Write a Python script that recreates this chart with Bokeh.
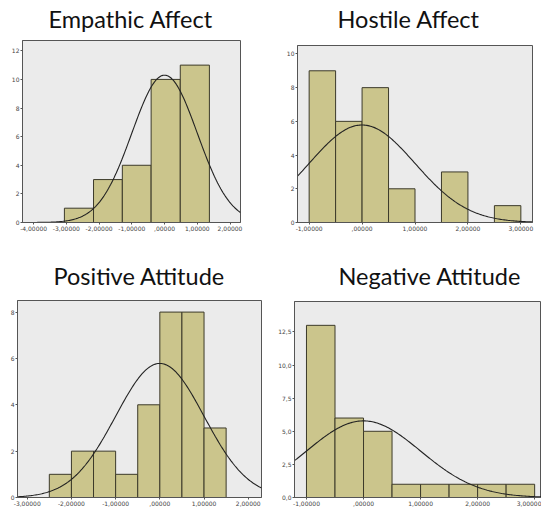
import math
from bokeh.plotting import figure
from bokeh.layouts import column, row
from bokeh.models import FixedTicker
from bokeh.embed import file_html
from bokeh.resources import INLINE

# ---------------- data ----------------
n_cases = 29
fit_mean = 0.0
fit_sd = 1.0

titles = ["Empathic Affect", "Hostile Affect", "Positive Attitude", "Negative Attitude"]

ea_edges = [-3.06, -2.17, -1.29, -0.41, 0.48, 1.37]
ea_counts = [1, 3, 4, 10, 11]

ha_edges = [-1.0, -0.5, 0.0, 0.5, 1.0, 1.5, 2.0, 2.5, 3.0]
ha_counts = [9, 6, 8, 2, 0, 3, 0, 1]

pa_edges = [-2.5, -2.0, -1.5, -1.0, -0.5, 0.0, 0.5, 1.0, 1.5]
pa_counts = [1, 2, 2, 1, 4, 8, 8, 3]

na_edges = [-1.0, -0.5, 0.0, 0.5, 1.0, 1.5, 2.0, 2.5, 3.0]
na_counts = [13, 6, 5, 1, 1, 1, 1, 1]

ea_xticks = [-4, -3, -2, -1, 0, 1, 2]
ea_xlabels = ["-4,00000", "-3,00000", "-2,00000", "-1,00000", ",00000", "1,00000", "2,00000"]
ea_yticks = [0, 2, 4, 6, 8, 10, 12]
ea_ylabels = ["0", "2", "4", "6", "8", "10", "12"]

ha_xticks = [-1, 0, 1, 2, 3]
ha_xlabels = ["-1,00000", ",00000", "1,00000", "2,00000", "3,00000"]
ha_yticks = [0, 2, 4, 6, 8, 10]
ha_ylabels = ["0", "2", "4", "6", "8", "10"]

pa_xticks = [-3, -2, -1, 0, 1, 2]
pa_xlabels = ["-3,00000", "-2,00000", "-1,00000", ",00000", "1,00000", "2,00000"]
pa_yticks = [0, 2, 4, 6, 8]
pa_ylabels = ["0", "2", "4", "6", "8"]

na_xticks = [-1, 0, 1, 2, 3]
na_xlabels = ["-1,00000", ",00000", "1,00000", "2,00000", "3,00000"]
na_yticks = [0, 2.5, 5.0, 7.5, 10.0, 12.5]
na_ylabels = ["0,0", "2,5", "5,0", "7,5", "10,0", "12,5"]

# ---------------- styling ----------------
BAR_FILL = "#CBC58C"
BAR_LINE = "#3C3A2A"
BG = "#EBEBEB"
TITLE_FONT = "Lato"
TOP_ROOM = 62


def normal_curve(x0, x1, bin_width, steps=200):
    xs, ys = [], []
    for i in range(steps + 1):
        x = x0 + (x1 - x0) * i / steps
        z = (x - fit_mean) / fit_sd
        pdf = math.exp(-0.5 * z * z) / (fit_sd * math.sqrt(2 * math.pi))
        xs.append(x)
        ys.append(n_cases * bin_width * pdf)
    return xs, ys


def panel(title, edges, counts, xr, yr, xticks, xlabels, yticks, ylabels,
          width, height, bl, br, bt, bb, title_offset, title_standoff):
    shift_up = TOP_ROOM - bt
    p = figure(width=width, height=height + shift_up, x_range=xr, y_range=yr,
               output_backend="svg", toolbar_location=None, title=title,
               min_border_left=bl, min_border_right=br,
               min_border_top=TOP_ROOM, min_border_bottom=bb,
               margin=(-shift_up, 0, 0, 0))
    p.title.text_font = TITLE_FONT
    p.title.text_font_size = "23.5px"
    p.title.text_font_style = "normal"
    p.title.text_color = "#111111"
    p.title.align = "left"
    p.title.vertical_align = "bottom"
    p.title.offset = title_offset
    p.title.standoff = title_standoff
    p.background_fill_color = BG
    p.border_fill_color = "white"
    p.outline_line_color = "#555555"
    p.outline_line_width = 1
    p.grid.visible = False

    lefts = edges[:-1]
    rights = edges[1:]
    p.quad(left=lefts, right=rights, bottom=[0] * len(counts), top=counts,
           fill_color=BAR_FILL, line_color=BAR_LINE, line_width=1)

    bw = edges[1] - edges[0]
    cx, cy = normal_curve(xr[0], xr[1], bw)
    p.line(cx, cy, line_color="#222222", line_width=1.1)

    for ax, ticks, labels in ((p.xaxis[0], xticks, xlabels), (p.yaxis[0], yticks, ylabels)):
        ax.ticker = FixedTicker(ticks=ticks)
        ax.major_label_overrides = {t: l for t, l in zip(ticks, labels)}
        ax.major_label_text_font_size = "6px"
        ax.major_label_text_color = "#444444"
        ax.major_label_text_font = "DejaVu Sans"
        ax.axis_line_color = "#555555"
        ax.major_tick_line_color = "#555555"
        ax.minor_tick_line_color = None
        ax.major_tick_in = 0
        ax.major_tick_out = 2
        ax.major_label_standoff = 1
    return p


p1 = panel(titles[0], ea_edges, ea_counts, (-4.34, 2.32), (0, 12.72),
           ea_xticks, ea_xlabels, ea_yticks, ea_ylabels,
           283, 262, 22, 43, 40, 40, 26, 16)
p2 = panel(titles[1], ha_edges, ha_counts, (-1.22, 3.22), (0, 10.5),
           ha_xticks, ha_xlabels, ha_yticks, ha_ylabels,
           258, 262, 14, 9, 45, 37, 40, 26)
p3 = panel(titles[2], pa_edges, pa_counts, (-3.22, 2.30), (0, 8.5),
           pa_xticks, pa_xlabels, pa_yticks, pa_ylabels,
           266, 246, 17, 5, 38, 10, 36, 22)
p4 = panel(titles[3], na_edges, na_counts, (-1.21, 3.12), (0, 14.8),
           na_xticks, na_xlabels, na_yticks, na_ylabels,
           275, 246, 28, 0, 39, 10, 44, 24)

layout = column(row(p1, p2, spacing=0), row(p3, p4, spacing=0), spacing=0)

open("out.html", "w").write(file_html(layout, INLINE))
